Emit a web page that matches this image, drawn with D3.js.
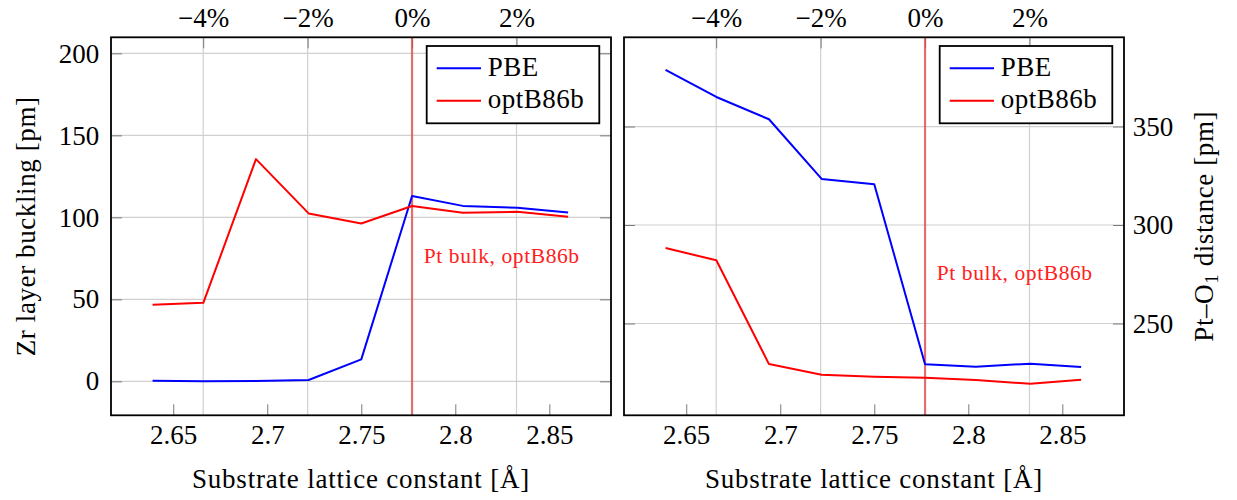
<!DOCTYPE html>
<html>
<head>
<meta charset="utf-8">
<script src="https://cdn.jsdelivr.net/npm/d3@7"></script>
<style>
  body { margin: 0; background: #fff; }
  svg { display: block; }
</style>
</head>
<body>
<svg id="chart" width="1237" height="500"></svg>
<script>
// Substrate lattice constants (Å) of the strained slabs
const latticeConst = [2.639, 2.666, 2.694, 2.722, 2.750, 2.777, 2.804, 2.833, 2.860];
// Pt bulk lattice constant with optB86b (Å): reference for the strain axis
const bulkLattice = 2.777;

// Zr layer buckling (pm)
const bucklingPBE = [0.3, 0.1, 0.2, 0.8, 13.4, 113.0, 107.0, 105.9, 103.0];
const bucklingOpt = [46.7, 47.9, 135.5, 102.4, 96.3, 106.9, 102.8, 103.4, 100.4];

// Pt–O1 distance (pm)
const ptoPBE = [378.8, 365.0, 353.7, 323.4, 320.7, 229.3, 228.1, 229.6, 227.9];
const ptoOpt = [288.3, 282.1, 229.4, 224.0, 223.0, 222.5, 221.3, 219.4, 221.5];

// Tick values
const latticeTicks = [2.65, 2.7, 2.75, 2.8, 2.85];
const strainTicks = [-4, -2, 0, 2];
const bucklingTicks = [0, 50, 100, 150, 200];
const ptoTicks = [250, 300, 350];

const seriesNames = ["PBE", "optB86b"];
const seriesColors = ["#0000ff", "#ff0000"];

const SERIF = '"Liberation Serif", "DejaVu Serif", "Times New Roman", Times, serif';

const svg = d3.select("#chart");
const pw = 500, ph = 378;
const top0 = 37.3;
const xDomain = [2.6169, 2.8828];
const FS = 27;

function fmtStrain(p) {
  return (p < 0 ? "\u2212" + Math.abs(p) : String(p)) + "%";
}

function styleAxis(a) {
  a.select(".domain").remove();
  a.selectAll(".tick line").attr("stroke", "#7a7a7a").attr("stroke-width", 1);
  a.attr("font-family", SERIF).attr("font-size", FS);
  a.selectAll("text").attr("fill", "#000").style("font-family", SERIF);
}

function drawPanel(cfg) {
  const g = svg.append("g").attr("transform", `translate(${cfg.left},${top0})`);
  const x = d3.scaleLinear().domain(xDomain).range([0, pw]);
  const y = d3.scaleLinear().domain(cfg.yDomain).range([ph, 0]);
  const strain = d3.scaleLinear()
    .domain(xDomain.map(a => (a / bulkLattice - 1) * 100))
    .range([0, pw]);

  // grid
  g.append("g").selectAll("line").data(strainTicks).join("line")
    .attr("x1", d => strain(d)).attr("x2", d => strain(d))
    .attr("y1", 0).attr("y2", ph)
    .attr("stroke", "#d0d0d0").attr("stroke-width", 1.2);
  g.append("g").selectAll("line").data(cfg.yTicks).join("line")
    .attr("x1", 0).attr("x2", pw)
    .attr("y1", d => y(d)).attr("y2", d => y(d))
    .attr("stroke", "#d0d0d0").attr("stroke-width", 1.2);

  // axes (ticks point inward)
  const bottom = g.append("g").attr("transform", `translate(0,${ph})`)
    .call(d3.axisBottom(x).tickValues(latticeTicks).tickSize(-11).tickPadding(9.5)
      .tickFormat(d => String(d)));
  styleAxis(bottom);

  const topAx = g.append("g")
    .call(d3.axisTop(strain).tickValues(strainTicks).tickSize(-11).tickPadding(10.8)
      .tickFormat(fmtStrain));
  styleAxis(topAx);

  const labelled = cfg.side === "left"
    ? d3.axisLeft(y).tickPadding(11.7)
    : d3.axisRight(y).tickPadding(8.7);
  const mirror = cfg.side === "left" ? d3.axisRight(y) : d3.axisLeft(y);

  const yAx = g.append("g")
    .attr("transform", cfg.side === "left" ? null : `translate(${pw},0)`)
    .call(labelled.tickValues(cfg.yTicks).tickSize(-11).tickFormat(d => String(d)));
  styleAxis(yAx);
  const yMirror = g.append("g")
    .attr("transform", cfg.side === "left" ? `translate(${pw},0)` : null)
    .call(mirror.tickValues(cfg.yTicks).tickSize(-11).tickFormat(""));
  styleAxis(yMirror);

  // Pt bulk reference line
  g.append("line")
    .attr("x1", x(bulkLattice)).attr("x2", x(bulkLattice))
    .attr("y1", 0).attr("y2", ph)
    .attr("stroke", "#e04848").attr("stroke-opacity", 0.75).attr("stroke-width", 2.2);
  g.append("text")
    .attr("x", x(bulkLattice) + 11.7).attr("y", y(cfg.bulkLabelY))
    .attr("font-size", 21.5).attr("letter-spacing", 0.6)
    .style("font-family", SERIF)
    .attr("fill", "#ff2020")
    .text("Pt bulk, optB86b");

  // data lines
  const line = d3.line().x((d, i) => x(latticeConst[i])).y(d => y(d));
  cfg.series.forEach((s, k) => {
    g.append("path").datum(s)
      .attr("d", line)
      .attr("fill", "none")
      .attr("stroke", seriesColors[k])
      .attr("stroke-width", 2)
      .attr("stroke-linejoin", "round");
  });

  // frame
  g.append("rect").attr("x", 0).attr("y", 0).attr("width", pw).attr("height", ph)
    .attr("fill", "none").attr("stroke", "#000").attr("stroke-width", 1.8);

  // legend
  const leg = g.append("g").attr("transform", "translate(315.7,8.7)");
  leg.append("rect").attr("width", 172.6).attr("height", 77.3)
    .attr("fill", "#fff").attr("stroke", "#000").attr("stroke-width", 1.8);
  seriesNames.forEach((name, k) => {
    const ry = 22.3 + k * 32.4;
    leg.append("line").attr("x1", 10).attr("x2", 54.3).attr("y1", ry).attr("y2", ry)
      .attr("stroke", seriesColors[k]).attr("stroke-width", 2);
    leg.append("text").attr("x", 61).attr("y", ry + 7.7)
      .attr("font-size", FS).attr("letter-spacing", 0.5)
      .style("font-family", SERIF).attr("fill", "#000").text(name);
  });

  // x-axis title
  g.append("text")
    .attr("x", pw / 2).attr("y", 488 - top0)
    .attr("text-anchor", "middle").attr("font-size", FS).attr("letter-spacing", 0.8)
    .style("font-family", SERIF).attr("fill", "#000")
    .text("Substrate lattice constant [\u00C5]");

  return { g, x, y };
}

drawPanel({
  left: 111,
  side: "left",
  yDomain: [-20.7, 209.8],
  yTicks: bucklingTicks,
  series: [bucklingPBE, bucklingOpt],
  bulkLabelY: 72
});

drawPanel({
  left: 624,
  side: "right",
  yDomain: [203.4, 395.3],
  yTicks: ptoTicks,
  series: [ptoPBE, ptoOpt],
  bulkLabelY: 272
});

// y-axis titles
svg.append("text")
  .attr("transform", "translate(35,226.3) rotate(-90)")
  .attr("text-anchor", "middle").attr("font-size", FS).attr("letter-spacing", 0.6)
  .style("font-family", SERIF).attr("fill", "#000")
  .text("Zr layer buckling [pm]");

const rt = svg.append("text")
  .attr("transform", "translate(1213,226.3) rotate(-90)")
  .attr("text-anchor", "middle").attr("font-size", FS).attr("letter-spacing", 0.6)
  .style("font-family", SERIF).attr("fill", "#000");
rt.append("tspan").text("Pt\u2013O");
rt.append("tspan").attr("font-size", 19).attr("dy", 5).text("1");
rt.append("tspan").attr("dy", -5).text(" distance [pm]");
</script>
</body>
</html>
